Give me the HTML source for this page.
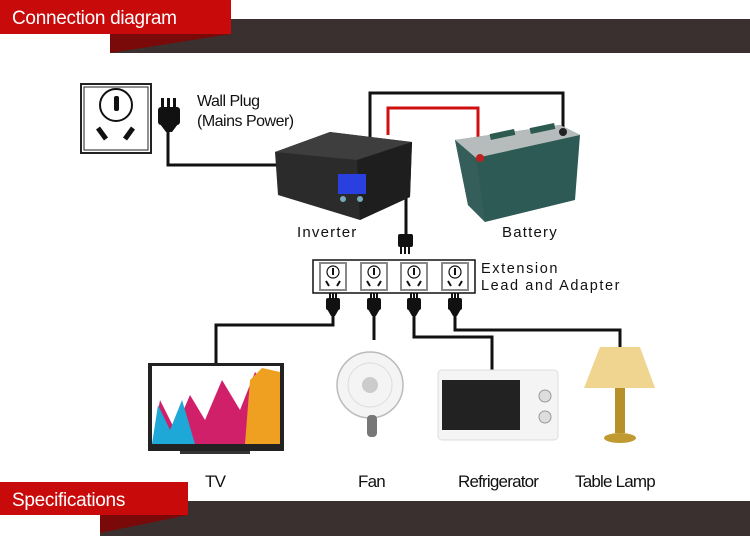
<!DOCTYPE html>
<html><head><meta charset="utf-8"><style>
html,body{margin:0;padding:0;background:#fff;width:750px;height:536px;overflow:hidden}
svg{display:block}
.t{font-family:"Liberation Sans",sans-serif;fill:#111}
</style></head><body>
<svg width="750" height="536" viewBox="0 0 750 536" xmlns="http://www.w3.org/2000/svg">
<rect x="110" y="19" width="640" height="34" fill="#3a3030"/>
<polygon points="110,34 231,34 110,53" fill="#7a0a0a"/>
<rect x="0" y="0" width="231" height="34" fill="#c80a0a"/>
<text x="12" y="24" class="t" style="fill:#fff;font-size:19px;letter-spacing:-0.3px">Connection diagram</text>
<rect x="100" y="501" width="650" height="35" fill="#3a3030"/>
<polygon points="100,515 188,515 100,533" fill="#7a0a0a"/>
<rect x="0" y="482" width="188" height="33" fill="#c80a0a"/>
<text x="12" y="506" class="t" style="fill:#fff;font-size:19px;letter-spacing:-0.3px">Specifications</text>

<g fill="none" stroke="#111" stroke-width="3">
<polyline points="168,130 168,165 280,165"/>
<polyline points="370,140 370,93 563,93 563,130"/>
<polyline points="406,190 406,235"/>
<polyline points="333,315 333,325 216,325 216,365"/>
<polyline points="374,315 374,340"/>
<polyline points="414,315 414,337 492,337 492,372"/>
<polyline points="455,315 455,330 620,330 620,350"/>
</g>
<polyline points="388,135 388,108 478,108 478,158" fill="none" stroke="#d01010" stroke-width="3"/>

<rect x="81" y="84" width="70" height="69" fill="#fff" stroke="#222" stroke-width="2"/>
<rect x="84" y="87" width="64" height="63" fill="none" stroke="#222" stroke-width="1"/>
<circle cx="116" cy="105" r="16" fill="none" stroke="#111" stroke-width="2"/>
<rect x="114" y="96" width="5" height="15" rx="2" fill="#111"/>
<line x1="98" y1="128" x2="106" y2="139" stroke="#111" stroke-width="5"/>
<line x1="133" y1="128" x2="125" y2="139" stroke="#111" stroke-width="5"/>
<rect x="161" y="98" width="3" height="10" fill="#111"/><rect x="167" y="98" width="3" height="10" fill="#111"/><rect x="173" y="98" width="3" height="10" fill="#111"/>
<rect x="158" y="107" width="22" height="18" rx="3" fill="#111"/>
<polygon points="160,124 178,124 172,132 166,132" fill="#111"/>
<text x="197" y="106" class="t" style="font-size:16px;letter-spacing:-0.5px">Wall Plug</text>
<text x="197" y="126" class="t" style="font-size:16px;letter-spacing:-0.5px">(Mains Power)</text>

<polygon points="275,152 330,132 412,142 410,197 360,220 278,195" fill="#2b2b2b"/>
<polygon points="275,152 330,132 412,142 357,160" fill="#3e3e3e"/>
<polygon points="357,160 412,142 410,197 360,220" fill="#1e1e1e"/>
<rect x="338" y="174" width="28" height="20" fill="#2a3fe0"/>
<circle cx="343" cy="199" r="3" fill="#7ab"/><circle cx="360" cy="199" r="3" fill="#7ab"/>
<text x="297" y="237" class="t" style="font-size:15px;letter-spacing:1.2px">Inverter</text>

<polygon points="455,140 560,125 580,135 575,200 485,222 468,205" fill="#2e5a55"/>
<polygon points="455,140 560,125 580,135 476,158" fill="#b6bcbc"/>
<polygon points="455,140 476,158 485,222 468,205" fill="#355e5a"/>
<rect x="490" y="132" width="25" height="6" fill="#2c5a50" transform="rotate(-12 500 135)"/>
<rect x="530" y="126" width="25" height="6" fill="#2c5a50" transform="rotate(-12 540 129)"/>
<circle cx="480" cy="158" r="4" fill="#c02020"/><circle cx="563" cy="132" r="4" fill="#222"/>
<text x="502" y="237" class="t" style="font-size:15px;letter-spacing:1.2px">Battery</text>

<rect x="400" y="246" width="2" height="8" fill="#111"/><rect x="404" y="246" width="2" height="8" fill="#111"/><rect x="408" y="246" width="2" height="8" fill="#111"/>
<rect x="398" y="234" width="15" height="13" rx="2" fill="#111"/>

<rect x="313" y="260" width="162" height="33" fill="#fff" stroke="#111" stroke-width="1.5"/>
<g id="s">
<rect x="320" y="263" width="26" height="27" fill="#fff" stroke="#888" stroke-width="2"/>
<circle cx="333" cy="272" r="6" fill="none" stroke="#111" stroke-width="1.2"/>
<rect x="332" y="268" width="2" height="7" fill="#111"/>
<line x1="326" y1="281" x2="329" y2="286" stroke="#111" stroke-width="2"/>
<line x1="340" y1="281" x2="337" y2="286" stroke="#111" stroke-width="2"/>
<rect x="329" y="293" width="2" height="6" fill="#111"/><rect x="332" y="293" width="2" height="6" fill="#111"/><rect x="335" y="293" width="2" height="6" fill="#111"/>
<rect x="326" y="298" width="14" height="12" rx="2" fill="#111"/>
<polygon points="327,309 339,309 335,316 331,316" fill="#111"/>
</g>
<use href="#s" x="41"/><use href="#s" x="81"/><use href="#s" x="122"/>
<text x="481" y="273" class="t" style="font-size:14.5px;letter-spacing:1.6px">Extension</text>
<text x="481" y="290" class="t" style="font-size:14.5px;letter-spacing:1.6px">Lead and Adapter</text>

<rect x="148" y="363" width="136" height="88" fill="#222"/>
<rect x="152" y="366" width="128" height="78" fill="#fff"/>
<polygon points="152,444 160,400 175,430 190,395 205,420 222,380 240,410 255,372 270,390 280,380 280,444" fill="#d0206a"/>
<polygon points="152,444 158,405 170,430 182,400 195,444" fill="#1ea8d8"/>
<polygon points="245,444 250,380 262,368 280,372 280,444" fill="#f0a020"/>
<rect x="180" y="451" width="70" height="3" fill="#333"/>
<circle cx="370" cy="385" r="33" fill="#f4f4f4" stroke="#bbb" stroke-width="1.5"/>
<circle cx="370" cy="385" r="22" fill="none" stroke="#ddd" stroke-width="1"/>
<circle cx="370" cy="385" r="8" fill="#ccc"/>
<rect x="367" y="415" width="10" height="22" rx="4" fill="#777"/>
<rect x="438" y="370" width="120" height="70" rx="4" fill="#f4f4f4" stroke="#ddd"/>
<rect x="442" y="380" width="78" height="50" fill="#222"/>
<circle cx="545" cy="396" r="6" fill="#ddd" stroke="#999"/><circle cx="545" cy="417" r="6" fill="#ddd" stroke="#999"/>
<polygon points="600,347 640,347 655,388 584,388" fill="#f0d590"/>
<rect x="615" y="388" width="10" height="45" fill="#b8902a"/>
<ellipse cx="620" cy="438" rx="16" ry="5" fill="#c09a30"/>

<text x="205" y="487" class="t" style="font-size:17px;letter-spacing:-0.8px">TV</text>
<text x="358" y="487" class="t" style="font-size:17px;letter-spacing:-0.8px">Fan</text>
<text x="458" y="487" class="t" style="font-size:17px;letter-spacing:-0.8px">Refrigerator</text>
<text x="575" y="487" class="t" style="font-size:17px;letter-spacing:-0.8px">Table Lamp</text>
</svg>
</body></html>
